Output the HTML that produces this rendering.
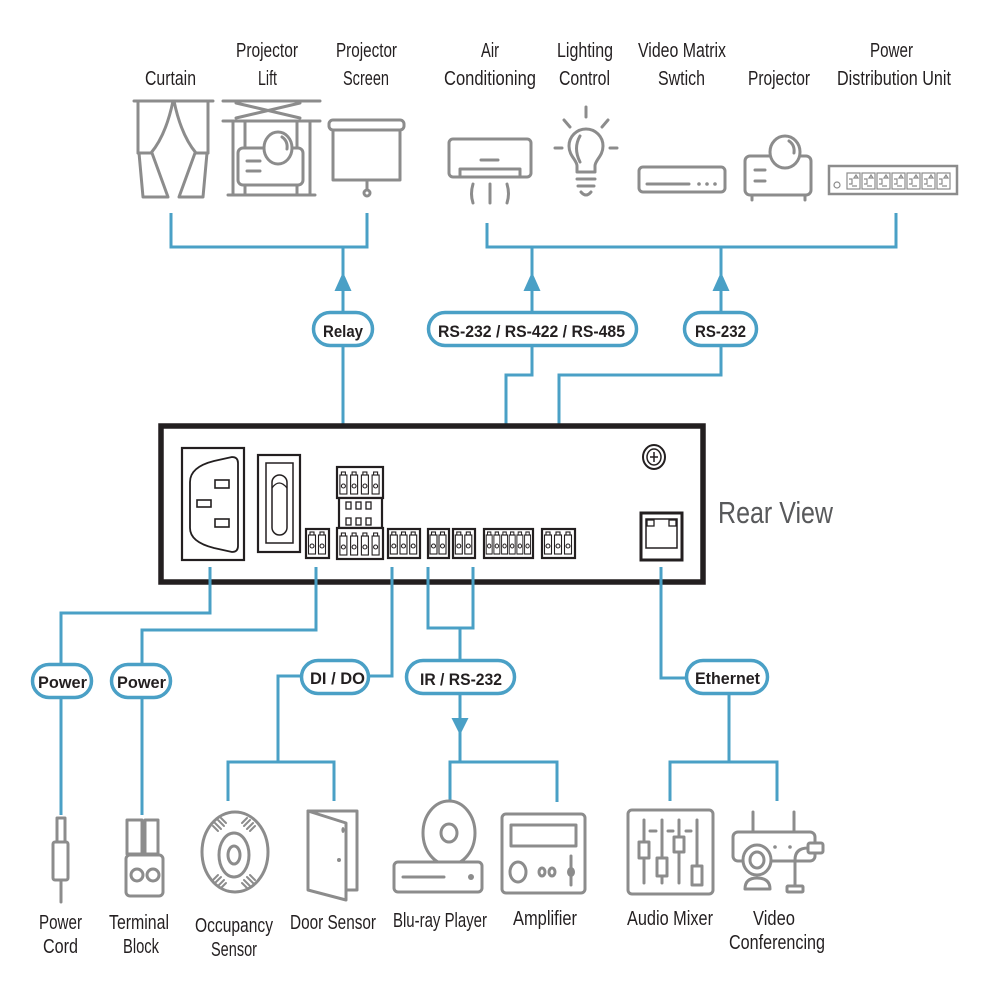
<!DOCTYPE html>
<html><head><meta charset="utf-8"><style>
html,body{margin:0;padding:0;background:#fff;}
svg{display:block;}
.t{font-family:"Liberation Sans",sans-serif;font-size:20px;fill:#231f20;}
.p{font-family:"Liberation Sans",sans-serif;font-size:17px;font-weight:bold;fill:#231f20;}
.ln{fill:none;stroke:#4aa0c6;stroke-width:3;stroke-linejoin:miter;stroke-linecap:butt;}
.pill{fill:#fff;stroke:#4aa0c6;stroke-width:3.5;}
.ar{fill:#4aa0c6;}
.ic{fill:none;stroke:#8c8c8c;stroke-width:3;stroke-linecap:round;stroke-linejoin:round;}
.ic2{fill:none;stroke:#8c8c8c;stroke-width:2;}
.k{fill:#fff;stroke:#231f20;stroke-width:2.2;}
.kp{fill:#fff;stroke:#231f20;stroke-width:1.1;}
</style></head><body>
<svg width="1000" height="1000" viewBox="0 0 1000 1000" xmlns="http://www.w3.org/2000/svg">
<defs>
<g id="pin"><rect class="kp" x="0" y="6" width="7" height="19"/><rect class="kp" x="1.5" y="3" width="4" height="3"/><circle class="kp" cx="3.5" cy="17" r="2"/></g>
</defs>

<!-- TOP LABELS -->
<text class="t" x="145" y="85" textLength="51" lengthAdjust="spacingAndGlyphs">Curtain</text>
<text class="t" x="236" y="57" textLength="62" lengthAdjust="spacingAndGlyphs">Projector</text>
<text class="t" x="258" y="85" textLength="19" lengthAdjust="spacingAndGlyphs">Lift</text>
<text class="t" x="336" y="57" textLength="61" lengthAdjust="spacingAndGlyphs">Projector</text>
<text class="t" x="343" y="85" textLength="46" lengthAdjust="spacingAndGlyphs">Screen</text>
<text class="t" x="481" y="57" textLength="18" lengthAdjust="spacingAndGlyphs">Air</text>
<text class="t" x="444" y="85" textLength="92" lengthAdjust="spacingAndGlyphs">Conditioning</text>
<text class="t" x="557" y="57" textLength="56" lengthAdjust="spacingAndGlyphs">Lighting</text>
<text class="t" x="559" y="85" textLength="51" lengthAdjust="spacingAndGlyphs">Control</text>
<text class="t" x="638" y="57" textLength="88" lengthAdjust="spacingAndGlyphs">Video Matrix</text>
<text class="t" x="658" y="85" textLength="47" lengthAdjust="spacingAndGlyphs">Swtich</text>
<text class="t" x="748" y="85" textLength="62" lengthAdjust="spacingAndGlyphs">Projector</text>
<text class="t" x="870" y="57" textLength="43" lengthAdjust="spacingAndGlyphs">Power</text>
<text class="t" x="837" y="85" textLength="114" lengthAdjust="spacingAndGlyphs">Distribution Unit</text>

<!-- TOP ICONS -->
<g class="ic">
<line x1="134" y1="101" x2="213" y2="101"/>
<line x1="138" y1="101" x2="138" y2="153"/>
<path d="M173,101 Q166,135 151,153"/>
<line x1="138" y1="153" x2="151" y2="153"/>
<path d="M139,153 L143,197 L168,197 L152,153"/>
<line x1="208" y1="101" x2="208" y2="153"/>
<path d="M174,101 Q181,135 196,153"/>
<line x1="196" y1="153" x2="208" y2="153"/>
<path d="M207,153 L203,197 L179,197 L195,153"/>
</g>
<g class="ic">
<line x1="223" y1="101" x2="320" y2="101"/>
<path d="M236,103 L300,118 M236,118 L300,103"/>
<line x1="223" y1="121" x2="320" y2="121"/>
<line x1="233" y1="121" x2="233" y2="195"/>
<line x1="310" y1="121" x2="310" y2="195"/>
<line x1="245" y1="121" x2="245" y2="148"/>
<line x1="297" y1="121" x2="297" y2="148"/>
<line x1="245" y1="185" x2="245" y2="195"/>
<line x1="297" y1="185" x2="297" y2="195"/>
<line x1="228" y1="195" x2="315" y2="195"/>
<rect x="238" y="148" width="65" height="37" rx="5" fill="#fff"/>
<ellipse cx="278" cy="148" rx="14" ry="16" fill="#fff"/>
<path d="M282,137 Q288,141 287,149"/>
<line x1="247" y1="161" x2="260" y2="161"/>
<line x1="247" y1="171" x2="260" y2="171"/>
</g>
<g class="ic">
<rect x="329" y="120" width="75" height="10" rx="4"/>
<rect x="333" y="130" width="67" height="50"/>
<line x1="367" y1="180" x2="367" y2="189"/>
<circle cx="367" cy="193" r="3"/>
</g>
<g class="ic">
<rect x="449" y="139" width="82" height="38" rx="4"/>
<path d="M460,177 V169 H520 V177"/>
<line x1="481" y1="160" x2="498" y2="160"/>
<path d="M473,184 Q470,194 473,203"/>
<line x1="490" y1="184" x2="490" y2="203"/>
<path d="M507,184 Q510,194 507,203"/>
</g>
<g class="ic">
<path d="M577,172 L577,166 C577,160 569,156 569,146 A17,17 0 1 1 603,146 C603,156 595,160 595,166 L595,172 Z"/>
<line x1="577" y1="179" x2="595" y2="179"/>
<line x1="578" y1="186" x2="594" y2="186"/>
<path d="M581,192 Q586,198 591,192"/>
<path d="M580,136 Q573,148 580,162"/>
<line x1="586" y1="107" x2="586" y2="117"/>
<line x1="564" y1="120" x2="570" y2="127"/>
<line x1="608" y1="120" x2="602" y2="127"/>
<line x1="555" y1="148" x2="562" y2="148"/>
<line x1="610" y1="148" x2="617" y2="148"/>
</g>
<g class="ic">
<rect x="639" y="167" width="86" height="25" rx="4"/>
<line x1="647" y1="184" x2="689" y2="184"/>
</g>
<g fill="#8c8c8c"><circle cx="699" cy="184" r="1.8"/><circle cx="707" cy="184" r="1.8"/><circle cx="715" cy="184" r="1.8"/></g>
<g class="ic">
<line x1="752" y1="195" x2="752" y2="200"/>
<line x1="805" y1="195" x2="805" y2="200"/>
<rect x="745" y="156" width="66" height="39" rx="5"/>
<ellipse cx="785" cy="152" rx="15" ry="16" fill="#fff"/>
<path d="M789,141 Q795,145 794,153"/>
<line x1="755" y1="170" x2="765" y2="170"/>
<line x1="755" y1="181" x2="765" y2="181"/>
</g>
<g class="ic2">
<rect x="829" y="166" width="128" height="28" stroke-width="2.5"/>
<circle cx="837" cy="185" r="3" stroke-width="1.2"/>
</g>
<g fill="none" stroke="#8c8c8c" stroke-width="1.2">
<rect x="847" y="173" width="13" height="16"/><rect x="862" y="173" width="13" height="16"/><rect x="877" y="173" width="13" height="16"/><rect x="892" y="173" width="13" height="16"/><rect x="907" y="173" width="13" height="16"/><rect x="922" y="173" width="13" height="16"/><rect x="937" y="173" width="13" height="16"/>
<path d="M849,179 h3 v5 h-3 M864,179 h3 v5 h-3 M879,179 h3 v5 h-3 M894,179 h3 v5 h-3 M909,179 h3 v5 h-3 M924,179 h3 v5 h-3 M939,179 h3 v5 h-3"/>
<path d="M854,178 l2,-3 l2,3 z M869,178 l2,-3 l2,3 z M884,178 l2,-3 l2,3 z M899,178 l2,-3 l2,3 z M914,178 l2,-3 l2,3 z M929,178 l2,-3 l2,3 z M944,178 l2,-3 l2,3 z"/>
<path d="M852,186 h5 M867,186 h5 M882,186 h5 M897,186 h5 M912,186 h5 M927,186 h5 M942,186 h5"/>
</g>

<!-- TOP CONNECTORS -->
<path class="ln" d="M171,213 V247 H367 V213"/>
<path class="ln" d="M343,247 V311"/>
<path class="ln" d="M343,347 V458"/>
<path class="ln" d="M487,223 V247 H896 V213"/>
<path class="ln" d="M532,247 V311"/>
<path class="ln" d="M532,347 V375 H506 V524"/>
<path class="ln" d="M721,247 V311"/>
<path class="ln" d="M721,347 V375 H559 V524"/>
<polygon class="ar" points="343,272 334.5,291 351.5,291"/>
<polygon class="ar" points="532,272 523.5,291 540.5,291"/>
<polygon class="ar" points="721,272 712.5,291 729.5,291"/>

<rect class="pill" x="313.5" y="312.5" width="59" height="33" rx="16.5"/>
<rect class="pill" x="428.5" y="312.5" width="208" height="33" rx="16.5"/>
<rect class="pill" x="684.5" y="312.5" width="72" height="33" rx="16.5"/>
<text class="p" x="323" y="337" textLength="40" lengthAdjust="spacingAndGlyphs">Relay</text>
<text class="p" x="438" y="337" textLength="187" lengthAdjust="spacingAndGlyphs">RS-232 / RS-422 / RS-485</text>
<text class="p" x="695" y="337" textLength="51" lengthAdjust="spacingAndGlyphs">RS-232</text>

<!-- REAR PANEL -->
<rect x="161" y="426" width="542" height="156" fill="#fff" stroke="#231f20" stroke-width="5.5"/>
<rect x="182" y="448" width="62" height="112" fill="#fff" stroke="#231f20" stroke-width="2.2"/>
<path d="M232,457 L214,461 Q190,467 190,482 L190,528 Q190,542 214,548 L232,552 Q238,552 238,546 L238,463 Q238,457 232,457 Z" fill="#fff" stroke="#231f20" stroke-width="1.8"/>
<rect x="215" y="480" width="14" height="8" fill="#fff" stroke="#231f20" stroke-width="1.6"/>
<rect x="197" y="500" width="14" height="7" fill="#fff" stroke="#231f20" stroke-width="1.6"/>
<rect x="215" y="519" width="14" height="8" fill="#fff" stroke="#231f20" stroke-width="1.6"/>
<rect x="258" y="455" width="42" height="97" fill="#fff" stroke="#231f20" stroke-width="2.2"/>
<rect x="266" y="463" width="27" height="80" fill="#fff" stroke="#231f20" stroke-width="1.5"/>
<rect x="272" y="475" width="15" height="60" rx="7.5" fill="#fff" stroke="#231f20" stroke-width="1.5"/>
<path d="M272,488 Q279,478 287,488" fill="none" stroke="#231f20" stroke-width="1.3"/>

<rect class="k" x="306" y="529" width="23" height="29"/>
<use href="#pin" x="308.5" y="529"/><use href="#pin" x="318.5" y="529"/>

<rect class="k" x="337" y="467" width="46" height="31"/>
<use href="#pin" x="339.9" y="469"/><use href="#pin" x="350.6" y="469"/><use href="#pin" x="361.4" y="469"/><use href="#pin" x="372.1" y="469"/>
<rect class="k" x="339" y="498" width="43" height="30"/>
<g fill="#fff" stroke="#231f20" stroke-width="1.3">
<rect x="346" y="502" width="5" height="7"/><rect x="356" y="502" width="5" height="7"/><rect x="366" y="502" width="5" height="7"/>
<rect x="346" y="518" width="5" height="7"/><rect x="356" y="518" width="5" height="7"/><rect x="366" y="518" width="5" height="7"/>
</g>
<rect class="k" x="337" y="528" width="46" height="31"/>
<use href="#pin" x="339.9" y="530"/><use href="#pin" x="350.6" y="530"/><use href="#pin" x="361.4" y="530"/><use href="#pin" x="372.1" y="530"/>

<rect class="k" x="388" y="529" width="32" height="29"/>
<use href="#pin" x="390.3" y="529"/><use href="#pin" x="400" y="529"/><use href="#pin" x="409.7" y="529"/>

<rect class="k" x="428" y="529" width="21" height="29"/>
<use href="#pin" x="430" y="529"/><use href="#pin" x="439" y="529"/>
<rect class="k" x="453" y="529" width="22" height="29"/>
<use href="#pin" x="455.3" y="529"/><use href="#pin" x="464.8" y="529"/>

<rect class="k" x="484" y="529" width="49" height="29"/>
<g transform="translate(0,529)">
<use href="#pin" transform="translate(486.2,0) scale(0.85,1)"/><use href="#pin" transform="translate(493.9,0) scale(0.85,1)"/><use href="#pin" transform="translate(501.6,0) scale(0.85,1)"/><use href="#pin" transform="translate(509.2,0) scale(0.85,1)"/><use href="#pin" transform="translate(516.9,0) scale(0.85,1)"/><use href="#pin" transform="translate(524.6,0) scale(0.85,1)"/>
</g>

<rect class="k" x="542" y="529" width="33" height="29"/>
<use href="#pin" x="544.5" y="529"/><use href="#pin" x="554.5" y="529"/><use href="#pin" x="564.5" y="529"/>

<rect x="641" y="513" width="41" height="47" fill="#fff" stroke="#231f20" stroke-width="3"/>
<rect x="646" y="519" width="31" height="29" fill="#fff" stroke="#231f20" stroke-width="1.5"/>
<rect x="647" y="520" width="7" height="6" fill="#fff" stroke="#231f20" stroke-width="1.3"/>
<rect x="669" y="520" width="7" height="6" fill="#fff" stroke="#231f20" stroke-width="1.3"/>
<ellipse cx="654" cy="457" rx="11" ry="12" fill="#fff" stroke="#231f20" stroke-width="2"/>
<ellipse cx="654" cy="457" rx="7" ry="8" fill="#fff" stroke="#231f20" stroke-width="1.5"/>
<path d="M650,457 H658 M654,452 V462" stroke="#231f20" stroke-width="1.5"/>

<text x="718" y="523" font-family="Liberation Sans, sans-serif" font-size="31" fill="#58595b" textLength="115" lengthAdjust="spacingAndGlyphs">Rear View</text>

<!-- BOTTOM CONNECTORS -->
<path class="ln" d="M210,567 V613 H61 V663"/>
<path class="ln" d="M61,699 V815"/>
<path class="ln" d="M316,567 V630 H142 V663"/>
<path class="ln" d="M142,699 V815"/>
<path class="ln" d="M392,567 V676 H370"/>
<path class="ln" d="M300,676 H278 V762"/>
<path class="ln" d="M228,801 V762 H334 V801"/>
<path class="ln" d="M428,567 V628 H473 V567"/>
<path class="ln" d="M460,628 V659"/>
<path class="ln" d="M460,695 V720"/>
<path class="ln" d="M460,732 V762"/>
<path class="ln" d="M450,801 V762 H557 V802"/>
<polygon class="ar" points="451.5,718 468.5,718 460,735"/>
<path class="ln" d="M661,567 V678 H685"/>
<path class="ln" d="M729,695 V762"/>
<path class="ln" d="M670,801 V762 H777 V801"/>

<rect class="pill" x="32.5" y="664.5" width="59" height="33" rx="16.5"/>
<rect class="pill" x="111.5" y="664.5" width="59" height="33" rx="16.5"/>
<rect class="pill" x="301.5" y="660.5" width="67" height="33" rx="16.5"/>
<rect class="pill" x="406.5" y="660.5" width="108" height="33" rx="16.5"/>
<rect class="pill" x="686.5" y="660.5" width="81" height="33" rx="16.5"/>
<text class="p" x="38" y="688" textLength="49" lengthAdjust="spacingAndGlyphs">Power</text>
<text class="p" x="117" y="688" textLength="49" lengthAdjust="spacingAndGlyphs">Power</text>
<text class="p" x="310" y="684" textLength="55" lengthAdjust="spacingAndGlyphs">DI / DO</text>
<text class="p" x="420" y="685" textLength="82" lengthAdjust="spacingAndGlyphs">IR / RS-232</text>
<text class="p" x="695" y="684" textLength="65" lengthAdjust="spacingAndGlyphs">Ethernet</text>

<!-- BOTTOM ICONS -->
<g class="ic">
<rect x="57" y="818" width="8" height="24"/>
<rect x="53" y="842" width="15" height="38" rx="2"/>
<line x1="61" y1="880" x2="61" y2="902"/>
</g>
<g class="ic">
<rect x="127" y="820" width="15" height="34"/>
<rect x="145" y="820" width="13" height="34"/>
<rect x="126" y="855" width="37" height="41" rx="4" fill="#fff"/>
<circle cx="137" cy="875" r="6"/>
<circle cx="153" cy="875" r="6"/>
</g>
<g class="ic">
<ellipse cx="235" cy="852" rx="33" ry="40"/>
<ellipse cx="234" cy="855" rx="15" ry="22"/>
<ellipse cx="234" cy="855" rx="6" ry="9"/>
</g>
<g stroke="#8c8c8c" stroke-width="2" stroke-linecap="round">
<path d="M213,826 l5,5 M215,823 l6,6 M218,820 l6,6 M221,818 l5,5"/>
<path d="M255,826 l-5,5 M253,823 l-6,6 M250,820 l-6,6 M247,818 l-5,5"/>
<path d="M213,880 l5,-5 M215,883 l6,-6 M218,886 l6,-6 M221,888 l5,-5"/>
<path d="M255,880 l-5,-5 M253,883 l-6,-6 M250,886 l-6,-6 M247,888 l-5,-5"/>
</g>
<g class="ic">
<path d="M308,811 H357 V890 H346"/>
<path d="M308,811 L346,823 L346,900 L308,890 Z"/>
</g>
<g fill="#8c8c8c"><ellipse cx="343" cy="830" rx="1.6" ry="3"/><circle cx="339" cy="860" r="2"/></g>
<g class="ic">
<ellipse cx="449" cy="833" rx="26" ry="32"/>
<ellipse cx="449" cy="833" rx="8" ry="9"/>
<rect x="394" y="862" width="88" height="30" rx="4" fill="#fff"/>
<line x1="403" y1="877" x2="444" y2="877"/>
</g>
<circle cx="471" cy="877" r="3" fill="#8c8c8c"/>
<g class="ic">
<rect x="502" y="814" width="83" height="79" rx="4"/>
<rect x="511" y="825" width="65" height="21"/>
<ellipse cx="518" cy="872" rx="8" ry="10"/>
<ellipse cx="542" cy="872" rx="3" ry="4"/>
<ellipse cx="552" cy="872" rx="3" ry="4"/>
<line x1="571" y1="856" x2="571" y2="885"/>
</g>
<ellipse cx="571" cy="872" rx="4" ry="5" fill="#8c8c8c"/>
<g class="ic">
<rect x="628" y="810" width="85" height="84" rx="4"/>
<line x1="644" y1="820" x2="644" y2="842"/><line x1="644" y1="858" x2="644" y2="883"/>
<line x1="662" y1="820" x2="662" y2="858"/><line x1="662" y1="876" x2="662" y2="883"/>
<line x1="679" y1="820" x2="679" y2="837"/><line x1="679" y1="852" x2="679" y2="883"/>
<line x1="697" y1="820" x2="697" y2="866"/>
<rect x="639" y="842" width="10" height="16"/>
<rect x="657" y="858" width="10" height="18"/>
<rect x="674" y="837" width="10" height="15"/>
<rect x="692" y="866" width="10" height="19"/>
<line x1="650" y1="831" x2="656" y2="831"/>
<line x1="668" y1="831" x2="673" y2="831"/>
<line x1="686" y1="831" x2="691" y2="831"/>
</g>
<g class="ic">
<line x1="753" y1="812" x2="753" y2="832"/>
<line x1="794" y1="812" x2="794" y2="832"/>
<rect x="733" y="832" width="82" height="29" rx="5"/>
<path d="M745,889 Q745,878 757,878 Q770,878 770,889 Z" fill="#fff"/>
<ellipse cx="757" cy="860" rx="14" ry="15" fill="#fff"/>
<ellipse cx="757" cy="860" rx="7" ry="8"/>
<rect x="808" y="843" width="15" height="10" rx="2" fill="#fff"/>
<path d="M808,848 Q795,848 795,860 V887"/>
<rect x="787" y="886" width="16" height="6" rx="1" fill="#fff"/>
</g>
<g fill="#8c8c8c"><circle cx="775" cy="847" r="1.8"/><circle cx="790" cy="847" r="1.8"/></g>

<!-- BOTTOM LABELS -->
<text class="t" x="39" y="929" textLength="43" lengthAdjust="spacingAndGlyphs">Power</text>
<text class="t" x="43" y="953" textLength="35" lengthAdjust="spacingAndGlyphs">Cord</text>
<text class="t" x="109" y="929" textLength="60" lengthAdjust="spacingAndGlyphs">Terminal</text>
<text class="t" x="123" y="953" textLength="36" lengthAdjust="spacingAndGlyphs">Block</text>
<text class="t" x="195" y="932" textLength="78" lengthAdjust="spacingAndGlyphs">Occupancy</text>
<text class="t" x="211" y="956" textLength="46" lengthAdjust="spacingAndGlyphs">Sensor</text>
<text class="t" x="290" y="929" textLength="86" lengthAdjust="spacingAndGlyphs">Door Sensor</text>
<text class="t" x="393" y="927" textLength="94" lengthAdjust="spacingAndGlyphs">Blu-ray Player</text>
<text class="t" x="513" y="925" textLength="64" lengthAdjust="spacingAndGlyphs">Amplifier</text>
<text class="t" x="627" y="925" textLength="86" lengthAdjust="spacingAndGlyphs">Audio Mixer</text>
<text class="t" x="753" y="925" textLength="42" lengthAdjust="spacingAndGlyphs">Video</text>
<text class="t" x="729" y="949" textLength="96" lengthAdjust="spacingAndGlyphs">Conferencing</text>
</svg>
</body></html>
